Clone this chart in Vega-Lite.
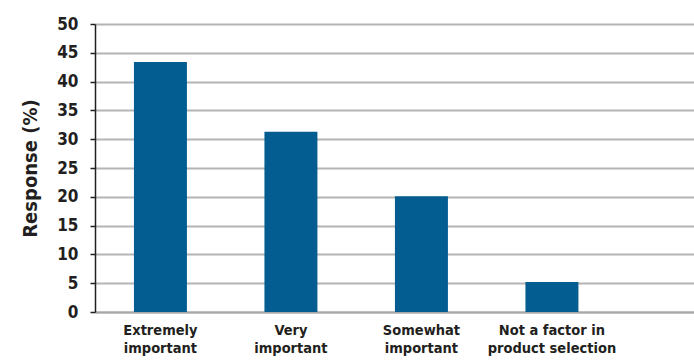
{
  "$schema": "https://vega.github.io/schema/vega-lite/v6.json",
  "autosize": "none",
  "width": 599,
  "height": 288,
  "padding": {"left": 95, "top": 24, "right": 0, "bottom": 51},
  "background": "white",
  "config": {"view": {"stroke": null}, "font": "DejaVu Sans Condensed, Roboto, sans-serif"},
  "data": {
    "values": [
      {"category": "Extremely\nimportant", "response": 43.4},
      {"category": "Very\nimportant", "response": 31.3},
      {"category": "Somewhat\nimportant", "response": 20.1},
      {"category": "Not a factor in\nproduct selection", "response": 5.2}
    ]
  },
  "mark": {"type": "bar", "color": "#035D90"},
  "encoding": {
    "x": {
      "field": "category",
      "type": "nominal",
      "sort": null,
      "scale": {"paddingInner": 0.594, "paddingOuter": 0.592, "align": 0.252},
      "axis": {
        "title": null,
        "labelAngle": 0,
        "labelExpr": "split(datum.value, '\\n')",
        "labelFont": "DejaVu Sans Condensed, Roboto, sans-serif",
        "labelFontWeight": "bold",
        "labelFontSize": 14.5,
        "labelLineHeight": 18,
        "labelColor": "#231f20",
        "labelPadding": 11,
        "labelBaseline": "top",
        "ticks": false,
        "domainColor": "#a8a8a8",
        "domainWidth": 2
      }
    },
    "y": {
      "field": "response",
      "type": "quantitative",
      "scale": {"domain": [0, 50], "nice": false},
      "axis": {
        "title": "Response (%)",
        "titleFont": "DejaVu Sans Condensed, Roboto, sans-serif",
        "titleFontWeight": "bold",
        "titleFontSize": 20,
        "titleColor": "#231f20",
        "titlePadding": 16,
        "values": [0, 5, 10, 15, 20, 25, 30, 35, 40, 45, 50],
        "labelFont": "DejaVu Sans Condensed, Roboto, sans-serif",
        "labelFontWeight": "bold",
        "labelFontSize": 17,
        "labelColor": "#231f20",
        "labelPadding": 12,
        "tickSize": 5,
        "tickColor": "#231f20",
        "tickWidth": 1.5,
        "domainColor": "#231f20",
        "domainWidth": 1.5,
        "grid": true,
        "gridColor": "#b4b4b4",
        "gridWidth": 2
      }
    }
  }
}
